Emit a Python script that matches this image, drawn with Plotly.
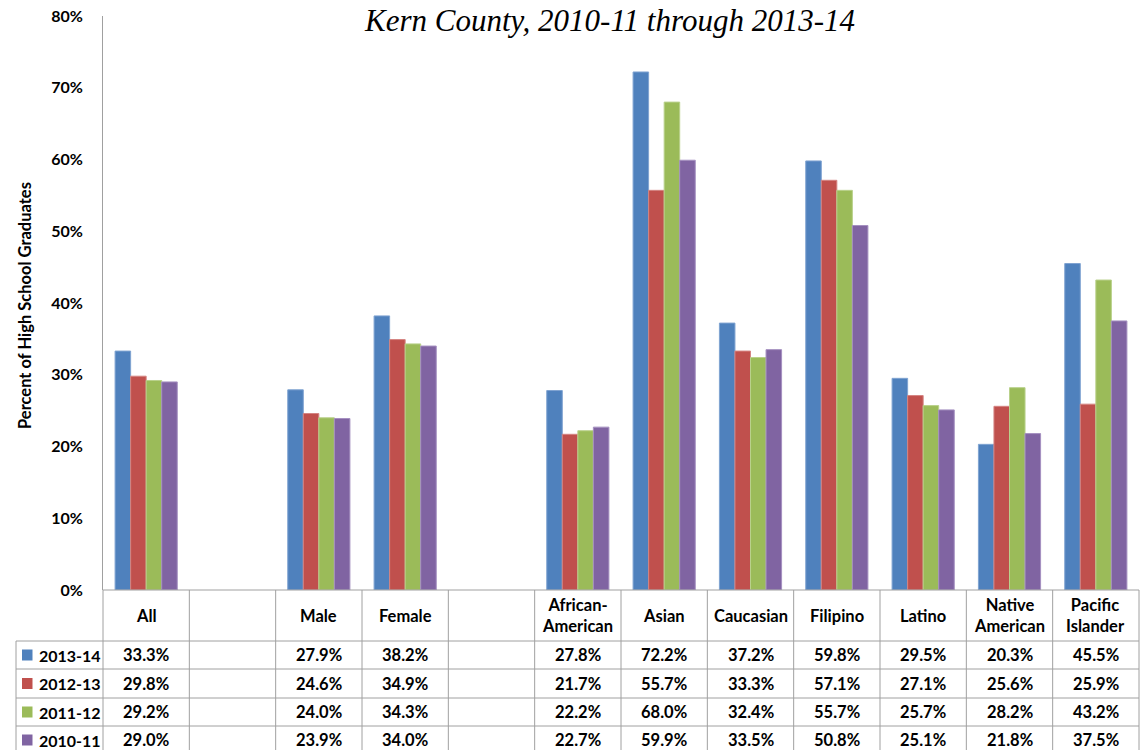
import plotly.graph_objects as go

# ---- data ----
categories = ["All", "", "Male", "Female", "", "African-American", "Asian",
              "Caucasian", "Filipino", "Latino", "Native American", "Pacific Islander"]
header_labels = ["All", "", "Male", "Female", "", "African-<br>American", "Asian",
                 "Caucasian", "Filipino", "Latino", "Native<br>American", "Pacific<br>Islander"]
years = ["2013-14", "2012-13", "2011-12", "2010-11"]
v_2013_14 = [33.3, None, 27.9, 38.2, None, 27.8, 72.2, 37.2, 59.8, 29.5, 20.3, 45.5]
v_2012_13 = [29.8, None, 24.6, 34.9, None, 21.7, 55.7, 33.3, 57.1, 27.1, 25.6, 25.9]
v_2011_12 = [29.2, None, 24.0, 34.3, None, 22.2, 68.0, 32.4, 55.7, 25.7, 28.2, 43.2]
v_2010_11 = [29.0, None, 23.9, 34.0, None, 22.7, 59.9, 33.5, 50.8, 25.1, 21.8, 37.5]
series = [v_2013_14, v_2012_13, v_2011_12, v_2010_11]
colors = ["#4F81BD", "#C0504D", "#9BBB59", "#8064A2"]
edge_colors = ["#7FA3D1", "#D48482", "#B9D18B", "#A590C0"]
title_text = "Kern County, 2010-11 through 2013-14"
y_title = "Percent of High School Graduates"
y_ticks = [0, 10, 20, 30, 40, 50, 60, 70, 80]

# ---- layout geometry (pixels) ----
W, H = 1144, 750
L, R, T, B = 103, 5, 16, 160
PW, PH = W - L - R, H - T - B
FONT = "Lato"
GRID = "#A0A0A0"
TS = 16.5


def px(X):
    return (X - L) / PW


def py(Y):
    return (H - B - Y) / PH


n = len(categories)
xs = list(range(n))

fig = go.Figure()
for name, vals, c, ec in zip(years, series, colors, edge_colors):
    fig.add_trace(go.Bar(x=xs, y=vals, name=name, marker=dict(color=c, line=dict(color=ec, width=1))))

shapes = []
line = dict(color=GRID, width=1)
# horizontal table lines
shapes.append(dict(type="line", xref="paper", yref="paper", x0=0, x1=1, y0=py(590), y1=py(590), line=line))
row_edges = [641, 669, 698, 726]
for Y in row_edges:
    shapes.append(dict(type="line", xref="paper", yref="paper", x0=px(16), x1=1, y0=py(Y), y1=py(Y), line=line))
# vertical table lines
for k in range(n + 1):
    shapes.append(dict(type="line", xref="paper", yref="paper", x0=k / n, x1=k / n,
                       y0=py(590), y1=py(760), line=line))
shapes.append(dict(type="line", xref="paper", yref="paper", x0=px(16), x1=px(16),
                   y0=py(641), y1=py(760), line=line))

annotations = []
# header labels
for i, lab in enumerate(header_labels):
    if lab:
        annotations.append(dict(x=i, xref="x", y=py(615.5), yref="paper", text=f"<b>{lab}</b>",
                                showarrow=False, font=dict(family=FONT, size=TS, color="#000"),
                                xanchor="center", yanchor="middle"))
row_centers = [655, 683.5, 712, 740]
for r, (name, vals, c) in enumerate(zip(years, series, colors)):
    Yc = row_centers[r]
    shapes.append(dict(type="rect", xref="paper", yref="paper", x0=px(22), x1=px(32.5),
                       y0=py(Yc - 5.5), y1=py(Yc + 5.5), fillcolor=c, line=dict(width=0)))
    annotations.append(dict(x=px(36.5), xref="paper", y=py(Yc), yref="paper", text=f"<b>{name}</b>",
                            showarrow=False, font=dict(family=FONT, size=16, color="#000"),
                            xanchor="left", yanchor="middle"))
    for i, v in enumerate(vals):
        if v is not None:
            annotations.append(dict(x=i, xref="x", y=py(Yc), yref="paper", text=f"<b>{v:.1f}%</b>",
                                    showarrow=False, font=dict(family=FONT, size=TS, color="#000"),
                                    xanchor="center", yanchor="middle"))

# y-axis title
annotations.append(dict(x=px(25), xref="paper", y=py(306), yref="paper", text=f"<b>{y_title}</b>",
                        textangle=-90, showarrow=False, font=dict(family=FONT, size=16.5, color="#000"),
                        xanchor="center", yanchor="middle"))
# chart title
annotations.append(dict(x=px(609), xref="paper", y=py(20), yref="paper", text=f"<i>{title_text}</i>",
                        showarrow=False, font=dict(family="Liberation Serif", size=31, color="#000"),
                        xanchor="center", yanchor="middle"))

fig.update_layout(
    width=W, height=H,
    margin=dict(l=L, r=R, t=T, b=B),
    paper_bgcolor="white", plot_bgcolor="white",
    barmode="group", bargap=0.28, bargroupgap=0,
    showlegend=False,
    shapes=shapes, annotations=annotations,
    xaxis=dict(range=[-0.5, n - 0.5], showticklabels=False, showgrid=False, zeroline=False,
               showline=False, ticks=""),
    yaxis=dict(range=[0, 80], tickvals=y_ticks, ticktext=[f"<b>{t}%</b>" for t in y_ticks],
               showgrid=False, zeroline=False, showline=True, linecolor=GRID, linewidth=1,
               ticks="", ticklabelstandoff=16, tickfont=dict(family=FONT, size=16, color="#000")),
)

fig.write_html("out.html", config={"displayModeBar": False},
               post_script="document.body.style.margin='0';document.body.style.overflow='hidden';")
